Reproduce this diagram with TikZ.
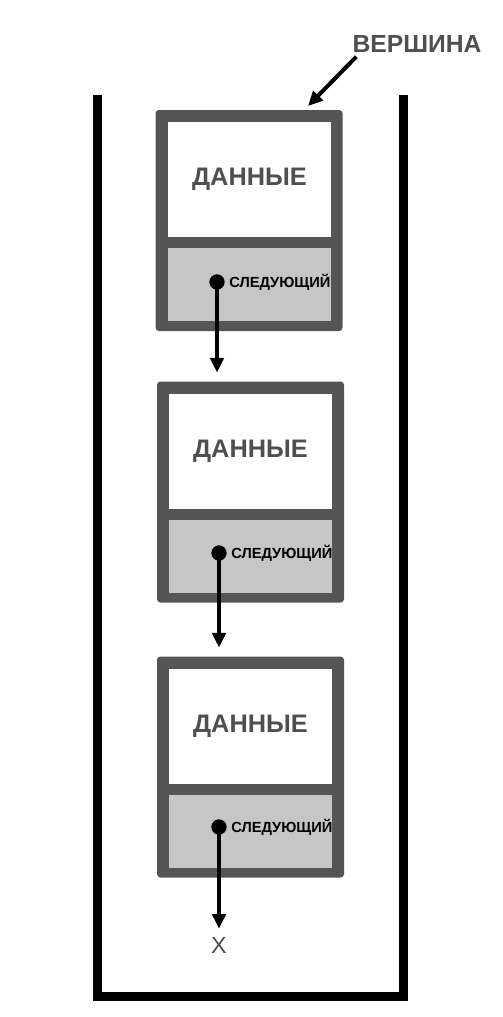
\documentclass[tikz,border=0pt]{standalone}
\usepackage{fontspec}
\setmainfont{Liberation Sans}
\usetikzlibrary{arrows.meta}
\definecolor{frame}{HTML}{555555}
\definecolor{slot}{HTML}{C6C6C6}
\definecolor{labelc}{HTML}{4F4F4F}
\tikzset{
  outerbox/.style={fill=frame, rounded corners=2.5pt, minimum width=140.25pt, minimum height=165.75pt, inner sep=0pt, draw=none},
  databox/.style={fill=white, minimum width=122.25pt, minimum height=86.25pt, inner sep=0pt, font=\bfseries\fontsize{19}{19}\selectfont, text=labelc},
  nextbox/.style={fill=slot, minimum width=122.25pt, minimum height=54.75pt, inner sep=0pt},
  ptr/.style={circle, fill=black, minimum size=11.5pt, inner sep=0pt},
  ptrlabel/.style={anchor=west, font=\bfseries\fontsize{11}{11}\selectfont, inner sep=0pt, text=black},
  link/.style={line width=3pt, -{Triangle[width=10pt,length=11pt]}},
  wall/.style={line width=6.75pt, line join=miter, line cap=butt}
}
\begin{document}
\begin{tikzpicture}[x=0.75pt,y=-0.75pt]
\useasboundingbox (0,0) rectangle (503,1017);
\fill[white] (0,0) rectangle (503,1017);
% container
\draw[wall] (97.5,95) -- (97.5,996.5) -- (403.5,996.5) -- (403.5,95);
% box 1 (top 110)
\node[outerbox] (b1) at (249,220.5) {};
\node[databox] (d1) at (249.5,179.5) {ДАННЫЕ};
\node[nextbox] (n1) at (249.5,284.5) {};
\node[ptr] (p1) at (217,282) {};
\node[ptrlabel] (l1) at ([xshift=9pt]p1.center) {СЛЕДУЮЩИЙ};
% box 2 (top 382)
\node[outerbox] (b2) at (250.5,492) {};
\node[databox] (d2) at (250.5,451) {ДАННЫЕ};
\node[nextbox] (n2) at (250.5,556) {};
\node[ptr] (p2) at (219,553) {};
\node[ptrlabel] (l2) at ([xshift=9pt]p2.center) {СЛЕДУЮЩИЙ};
% box 3 (top 657)
\node[outerbox] (b3) at (250.5,767) {};
\node[databox] (d3) at (250.5,726) {ДАННЫЕ};
\node[nextbox] (n3) at (250.5,831) {};
\node[ptr] (p3) at (219,827) {};
\node[ptrlabel] (l3) at ([xshift=9pt]p3.center) {СЛЕДУЮЩИЙ};
% end marker
\node[inner sep=0pt, text=labelc, font=\fontsize{17.5}{17.5}\selectfont] (x3) at (219,945) {X};
% top label
\node[inner sep=0pt, text=labelc, font=\bfseries\fontsize{18.5}{18.5}\selectfont] (top) at (417,44) {ВЕРШИНА};
\coordinate (topend) at (308,106);
% links
\draw[link, shorten >=6.5pt] (p1.center) -- (p1.center |- b2.north);
\draw[link, shorten >=6.5pt] (p2.center) -- (p2.center |- b3.north);
\draw[link, shorten >=6pt] (p3.center) -- (x3.north);
\draw[link] ([shift={(4,4)}]top.south west) -- (topend);
\end{tikzpicture}
\end{document}
